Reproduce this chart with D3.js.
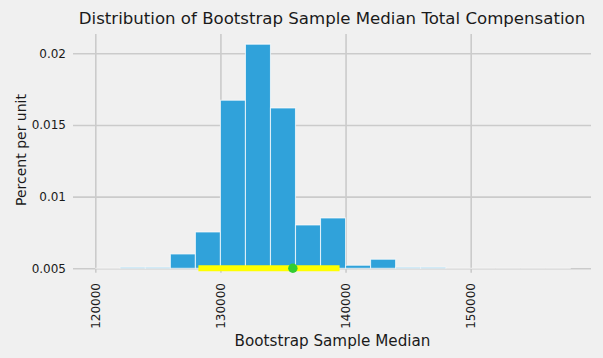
<!DOCTYPE html>
<html>
<head>
<meta charset="utf-8">
<script src="https://cdn.jsdelivr.net/npm/d3@7"></script>
<style>
  html, body { margin: 0; padding: 0; background: #f0f0f0; }
  svg { display: block; }
  text { font-family: "DejaVu Sans", sans-serif; fill: #1a1a1a; }
</style>
</head>
<body>
<svg id="chart" width="603" height="358"></svg>
<script>
// ---- data ----
const binStarts = [120000,122000,124000,126000,128000,130000,132000,134000,136000,138000,
                   140000,142000,144000,146000,148000,150000,152000,154000,156000];
const binWidth = 2000;
const binValues = [0, 0.00507, 0.00507, 0.0060, 0.00753, 0.01672, 0.02064, 0.01618, 0.00802, 0.00851,
                   0.00521, 0.00563, 0.00507, 0.00507, 0, 0, 0, 0, 0];
const xTicks = [120000, 130000, 140000, 150000];
const yTicks = [0.005, 0.01, 0.015, 0.02];
const yTickLabels = ["0.005", "0.01", "0.015", "0.02"];
const interval = [128240, 139520];
const observedMedian = 135790;
const baseline = 0.005;

// ---- layout ----
const W = 603, H = 358;
const L = 73, R = 591, T = 34, B = 272.7;
const svg = d3.select("#chart");
svg.append("rect").attr("width", W).attr("height", H).attr("fill", "#f0f0f0");

const x = d3.scaleLinear().domain([118218, 159615]).range([L, R]);
const y = d3.scaleLinear().domain([0.004693, 0.021347]).range([B, T]);

// grid via axes
const gx = svg.append("g").attr("transform", `translate(0,${B})`)
  .call(d3.axisBottom(x).tickValues(xTicks).tickSize(-(B - T)).tickFormat(d3.format("d")).tickPadding(0));
gx.select(".domain").remove();
gx.selectAll(".tick line").attr("stroke", "#cbcbcb").attr("stroke-width", 1.6);
gx.selectAll(".tick text")
  .attr("font-size", 12).attr("fill", "#1a1a1a")
  .attr("text-anchor", "end")
  .attr("dy", null).attr("y", null)
  .attr("transform", "translate(4.3,10.3) rotate(-90)");

const gy = svg.append("g").attr("transform", `translate(${L},0)`)
  .call(d3.axisLeft(y).tickValues(yTicks).tickSize(-(R - L)).tickFormat((d, i) => yTickLabels[i]).tickPadding(7));
gy.select(".domain").remove();
gy.selectAll(".tick line").attr("stroke", "#cbcbcb").attr("stroke-width", 1.6);
gy.selectAll(".tick text").attr("font-size", 12).attr("fill", "#1a1a1a");

// bars
const bars = svg.append("g");
binStarts.forEach((s, i) => {
  const top = y(Math.max(binValues[i], baseline));
  const x0 = x(s), x1 = x(s + binWidth), yb = y(baseline);
  bars.append("path")
    .attr("d", `M${x0},${yb}V${top}H${x1}V${yb}Z`)
    .attr("fill", "#30a2da")
    .attr("stroke", "#ffffff")
    .attr("stroke-opacity", 0.7)
    .attr("stroke-width", 1.1);
});

// interval and point
svg.append("line")
  .attr("x1", x(interval[0])).attr("x2", x(interval[1]))
  .attr("y1", y(baseline)).attr("y2", y(baseline))
  .attr("stroke", "#ffff00").attr("stroke-width", 6);
svg.append("circle")
  .attr("cx", x(observedMedian)).attr("cy", y(baseline)).attr("r", 4.7)
  .attr("fill", "#32cd32");

// titles
svg.append("text").attr("x", 332).attr("y", 24).attr("text-anchor", "middle")
  .attr("font-size", 16.6).text("Distribution of Bootstrap Sample Median Total Compensation");
svg.append("text").attr("x", 332.5).attr("y", 346).attr("text-anchor", "middle")
  .attr("font-size", 15.2).text("Bootstrap Sample Median");
svg.append("text").attr("transform", "translate(26,150) rotate(-90)").attr("text-anchor", "middle")
  .attr("font-size", 14).text("Percent per unit");
</script>
</body>
</html>
